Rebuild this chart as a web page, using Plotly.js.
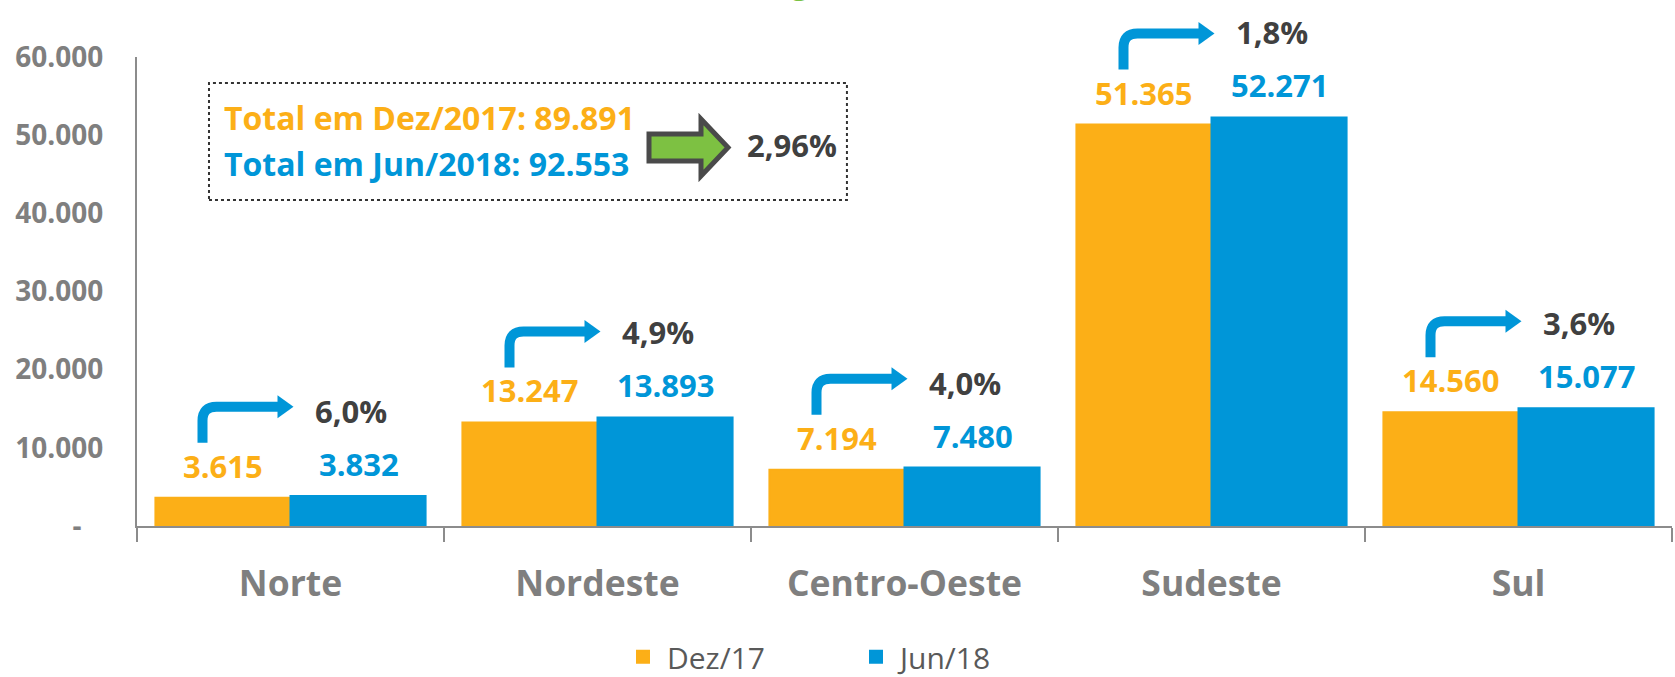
<!DOCTYPE html>
<html>
<head>
<meta charset="utf-8">
<script src="https://cdn.plot.ly/plotly-3.0.1.min.js"></script>
<style>
  html, body { margin: 0; padding: 0; background: #ffffff; }
  #chart { width: 1675px; height: 677px; }
</style>
</head>
<body>
<div id="chart"></div>
<script>
// ---- data ----
var regions = ["Norte", "Nordeste", "Centro-Oeste", "Sudeste", "Sul"];
var dez17 = [3615, 13247, 7194, 51365, 14560];
var jun18 = [3832, 13893, 7480, 52271, 15077];
var seriesNames = ["Dez/17", "Jun/18"];
var totalLabels = ["Total em Dez/2017: ", "Total em Jun/2018: "];
var totals = [89891, 92553];
var yTickVals = [0, 10000, 20000, 30000, 40000, 50000, 60000];
var yTickText = ["-\u00a0\u00a0\u00a0", "10.000", "20.000", "30.000", "40.000", "50.000", "60.000"];
var yRange = [0, 60000];
var titleFragment = "g";   // only the bottom of the (cropped) green title is visible

// ---- helpers ----
function fmtInt(n) { return String(n).replace(/\B(?=(\d{3})+(?!\d))/g, "."); }
function fmtPct(a, b, d) { return ((b / a - 1) * 100).toFixed(d).replace(".", ",") + "%"; }
function toPaperY(v) { return (v - yRange[0]) / (yRange[1] - yRange[0]); }

var ORANGE = "#FCAF17";
var BLUE = "#0096D8";
var DARK = "#404040";
var GREY = "#7F7F7F";
var GREEN = "#7AC143";
var FONT = "Open Sans";

var traces = [
  { type: "bar", name: seriesNames[0], x: regions, y: dez17,
    marker: { color: ORANGE, line: { color: ORANGE, width: 2 } }, hoverinfo: "none" },
  { type: "bar", name: seriesNames[1], x: regions, y: jun18,
    marker: { color: BLUE, line: { color: BLUE, width: 2 } }, hoverinfo: "none" }
];

var annotations = [];
var shapes = [];

regions.forEach(function (r, i) {
  annotations.push({
    x: i, y: dez17[i], xref: "x", yref: "y", xshift: -68, yshift: 32,
    text: fmtInt(dez17[i]), showarrow: false, xanchor: "center", yanchor: "middle",
    font: { family: FONT, size: 31, color: ORANGE, weight: "bold" }
  });
  annotations.push({
    x: i, y: jun18[i], xref: "x", yref: "y", xshift: 68, yshift: 32,
    text: fmtInt(jun18[i]), showarrow: false, xanchor: "center", yanchor: "middle",
    font: { family: FONT, size: 31, color: BLUE, weight: "bold" }
  });
  annotations.push({
    x: i, y: jun18[i], xref: "x", yref: "y", xshift: 60, yshift: 85,
    text: fmtPct(dez17[i], jun18[i], 1), showarrow: false, xanchor: "center", yanchor: "middle",
    font: { family: FONT, size: 31, color: DARK, weight: "bold" }
  });
  // bent arrow (stem + curve), anchored above the Dez/17 bar
  shapes.push({
    type: "path", xref: "x", yref: "paper", xsizemode: "pixel", ysizemode: "pixel",
    xanchor: i, yanchor: toPaperY(dez17[i]),
    path: "M -88,55 L -88,77 Q -88,91 -74,91 L -10,91",
    line: { color: BLUE, width: 10 }, fillcolor: "rgba(0,0,0,0)", layer: "above"
  });
  // arrow head
  shapes.push({
    type: "path", xref: "x", yref: "paper", xsizemode: "pixel", ysizemode: "pixel",
    xanchor: i, yanchor: toPaperY(dez17[i]),
    path: "M -13,102.5 L 3,91 L -13,79.5 Z",
    line: { color: BLUE, width: 0 }, fillcolor: BLUE, layer: "above"
  });
});

// inset box
shapes.push({
  type: "rect", xref: "paper", yref: "paper",
  x0: 0.0469, x1: 0.4625, y0: 0.695, y1: 0.9446,
  line: { color: "#333333", width: 2, dash: "dot" }, fillcolor: "rgba(0,0,0,0)"
});
// green block arrow
shapes.push({
  type: "path", xref: "paper", yref: "paper", xsizemode: "pixel", ysizemode: "pixel",
  xanchor: 0, yanchor: 0,
  path: "M 512,392 L 564,392 L 564,407 L 591,378.5 L 564,350 L 564,365 L 512,365 Z",
  line: { color: "#4A4A4A", width: 5 }, fillcolor: "#7DC142"
});

annotations.push({
  x: 0.0555, y: 0.871, xref: "paper", yref: "paper", xanchor: "left", yanchor: "middle",
  text: totalLabels[0] + fmtInt(totals[0]), showarrow: false,
  font: { family: FONT, size: 32, color: ORANGE, weight: "bold" }
});
annotations.push({
  x: 0.0555, y: 0.773, xref: "paper", yref: "paper", xanchor: "left", yanchor: "middle",
  text: totalLabels[1] + fmtInt(totals[1]), showarrow: false,
  font: { family: FONT, size: 32, color: BLUE, weight: "bold" }
});
annotations.push({
  x: 0.4264, y: 0.812, xref: "paper", yref: "paper", xanchor: "center", yanchor: "middle",
  text: fmtPct(totals[0], totals[1], 2), showarrow: false,
  font: { family: FONT, size: 31, color: DARK, weight: "bold" }
});
// cropped title fragment at the very top edge
annotations.push({
  x: 0.432, y: 1.113, xref: "paper", yref: "paper", xanchor: "center", yanchor: "bottom",
  text: titleFragment, showarrow: false,
  font: { family: FONT, size: 32, color: GREEN, weight: "bold" }
});

var layout = {
  width: 1675, height: 677,
  margin: { l: 137, r: 3, t: 57, b: 151, autoexpand: false },
  paper_bgcolor: "#ffffff", plot_bgcolor: "#ffffff",
  barmode: "group", bargap: 0.12, bargroupgap: 0,
  separators: ",.",
  showlegend: true,
  legend: {
    orientation: "h", x: 0.314, xanchor: "left", y: -0.279, yanchor: "middle",
    font: { family: FONT, size: 30, color: "#595959" },
    itemwidth: 38, entrywidth: 180, traceorder: "normal"
  },
  xaxis: {
    type: "category", categoryorder: "array", categoryarray: regions,
    showline: true, linecolor: "#8C8C8C", linewidth: 2,
    ticks: "outside", tickson: "boundaries", ticklen: 14, tickwidth: 2, tickcolor: "#8C8C8C",
    tickfont: { family: FONT, size: 35.5, color: GREY, weight: "bold" },
    ticklabelstandoff: 25,
    showgrid: false, zeroline: false, fixedrange: true
  },
  yaxis: {
    range: yRange, tickmode: "array", tickvals: yTickVals, ticktext: yTickText,
    showline: true, linecolor: "#8C8C8C", linewidth: 2, ticks: "",
    tickfont: { family: FONT, size: 28, color: GREY, weight: "bold" },
    ticklabelstandoff: 26,
    showgrid: false, zeroline: false, fixedrange: true
  },
  annotations: annotations,
  shapes: shapes
};

Plotly.newPlot("chart", traces, layout, { displayModeBar: false, staticPlot: true });
</script>
</body>
</html>
